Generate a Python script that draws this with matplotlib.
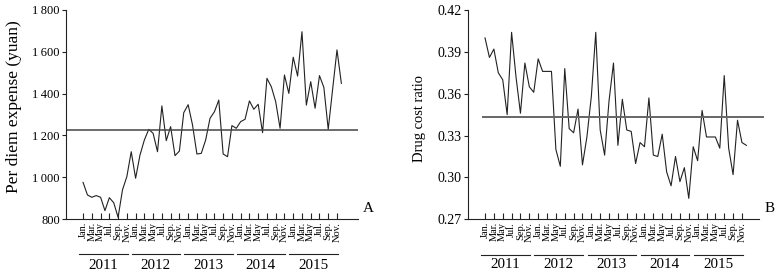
import numpy as np
import matplotlib
matplotlib.use('Agg')
import matplotlib.pyplot as plt

plt.rcParams['font.family'] = ['Liberation Serif', 'DejaVu Serif']

month_labels = ['Jan.', 'Mar.', 'May', 'Jul.', 'Sep.', 'Nov.']
years = ['2011', '2012', '2013', '2014', '2015']

expense = [975, 915, 904, 912, 904, 840, 902, 878, 808, 939, 1003, 1122,
           995, 1106, 1178, 1229, 1210, 1122, 1341, 1175, 1242, 1103, 1125, 1309,
           1347, 1250, 1111, 1114, 1178, 1282, 1313, 1369, 1111, 1098, 1247, 1234,
           1266, 1277, 1365, 1325, 1349, 1213, 1473, 1433, 1361, 1234, 1489, 1401,
           1574, 1484, 1696, 1345, 1457, 1330, 1486, 1430, 1229, 1420, 1609, 1449]
expense_mean = 1228

drug_ratio = [0.400, 0.386, 0.392, 0.375, 0.370, 0.345, 0.404, 0.372, 0.346, 0.382, 0.365, 0.361,
              0.385, 0.376, 0.376, 0.376, 0.320, 0.308, 0.378, 0.335, 0.332, 0.349, 0.309, 0.329,
              0.358, 0.404, 0.334, 0.316, 0.355, 0.382, 0.323, 0.356, 0.334, 0.333, 0.310, 0.325,
              0.322, 0.357, 0.316, 0.315, 0.331, 0.304, 0.294, 0.315, 0.297, 0.307, 0.285, 0.322,
              0.312, 0.348, 0.329, 0.329, 0.329, 0.321, 0.373, 0.321, 0.302, 0.341, 0.325, 0.323]
ratio_mean = 0.343

W, H = 781, 278
fig = plt.figure(figsize=(W / 100, H / 100), dpi=100)
axA = fig.add_axes([66 / W, 59 / H, 292 / W, 209 / H])
axB = fig.add_axes([468 / W, 58.7 / H, 291 / W, 209.3 / H])

x = np.arange(len(expense))
tick_pos = x[::2]
tick_lab = month_labels * len(years)


def style(ax, ylab_size):
    for s in ['top', 'right']:
        ax.spines[s].set_visible(False)
    for s in ['left', 'bottom']:
        ax.spines[s].set_color('#222222')
        ax.spines[s].set_linewidth(0.8)
    ax.set_xticks(tick_pos)
    ax.set_xticklabels(tick_lab, rotation=90)
    ax.tick_params(axis='x', direction='in', length=4.5, width=0.8,
                   labelsize=7.5, pad=2, color='#222222')
    ax.tick_params(axis='y', direction='out', length=3, width=0.8,
                   labelsize=ylab_size, pad=1.5, color='#222222')


def year_marks(ax, yline, ytext):
    tr = ax.get_xaxis_transform()
    for k, yr in enumerate(years):
        ax.plot([12 * k - 0.85, 12 * k + 10.15], [yline, yline], transform=tr,
                color='#222222', lw=0.8, clip_on=False)
        ax.text(12 * k + 4.6, ytext, yr, transform=tr, ha='center', va='center',
                fontsize=10.8)


# Panel A
axA.plot(x, expense, color='#222222', lw=0.8)
axA.axhline(expense_mean, color='#444444', lw=1.1)
axA.set_xlim(-3.9, 62.8)
axA.set_ylim(800, 1800)
yt = [800, 1000, 1200, 1400, 1600, 1800]
axA.set_yticks(yt)
axA.set_yticklabels([f'{v}' if v < 1000 else f'{v // 1000}\u2009{v % 1000:03d}' for v in yt])
style(axA, 9)
year_marks(axA, -0.168, -0.222)

# Panel B
axB.plot(x, drug_ratio, color='#222222', lw=0.8)
axB.plot([-0.45, 62.75], [ratio_mean, ratio_mean], color='#666666', lw=1.4, clip_on=False)
axB.set_xlim(-3.84, 61.85)
axB.set_ylim(0.27, 0.42)
yt2 = [0.27, 0.30, 0.33, 0.36, 0.39, 0.42]
axB.set_yticks(yt2)
axB.set_yticklabels([f'{v:.2f}' for v in yt2])
style(axB, 10)
year_marks(axB, -0.171, -0.218)

fig.text(14 / W, 1 - 107 / H, 'Per diem expense (yuan)', rotation=90,
         ha='center', va='center', fontsize=12.5)
fig.text(419 / W, 1 - 118 / H, 'Drug cost ratio', rotation=90,
         ha='center', va='center', fontsize=10.5)
fig.text(368 / W, 1 - 209 / H, 'A', ha='center', va='center', fontsize=11)
fig.text(770 / W, 1 - 209 / H, 'B', ha='center', va='center', fontsize=11)

fig.savefig('out.png', dpi=100)
